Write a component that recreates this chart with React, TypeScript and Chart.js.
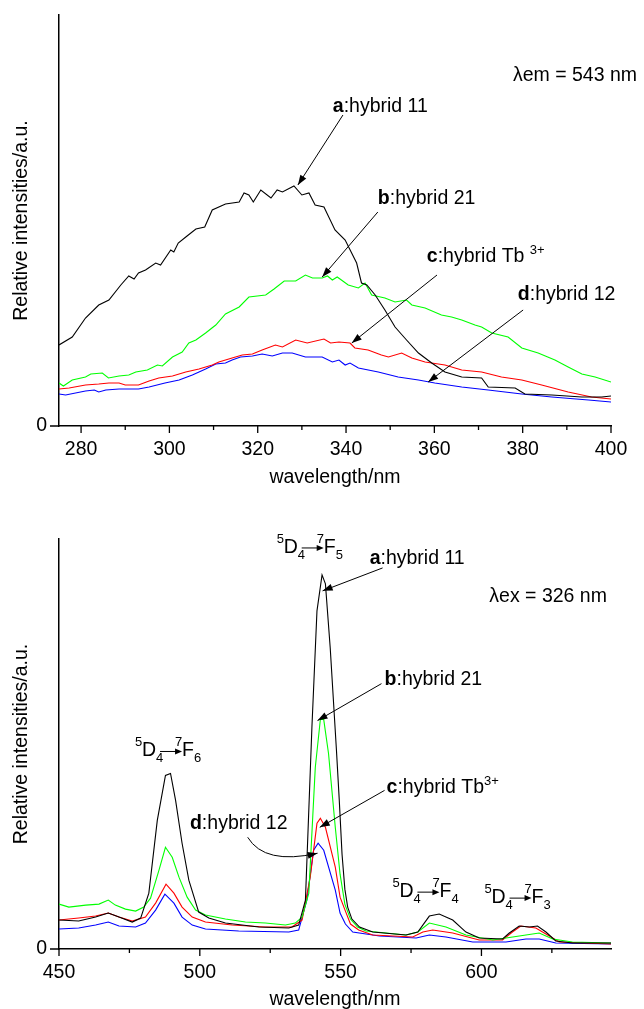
import React, { useEffect, useRef } from 'react';
import { Chart, registerables } from 'chart.js';

Chart.register(...registerables);

const FONT = '"Liberation Sans", Arial, Helvetica, sans-serif';
const TEXT_SIZE = 19.5;
const SMALL_SIZE = 13;

// ---------- Excitation spectra (λem = 543 nm) ----------
const excNmA = [275, 278, 281, 284, 286.3, 289, 290.8, 292, 293, 294.6, 296.9, 298, 300.3, 301, 302, 304, 306, 308, 309.7, 312.7, 315.8, 316.9, 318, 319, 320.7, 323, 324.4, 325.6, 328.2, 330, 331.6, 333, 335, 337.5, 339.8, 342.4, 343.5, 344.7, 346.6, 348.8, 351.1, 353.7, 356.4, 359.4, 362.4, 366.2, 370.7, 372.2, 378.3, 380.5, 386.6, 393.4, 397.9, 400];
const excIntA = [81, 89, 108, 121, 126, 141, 150, 147, 153, 156, 163, 161, 176, 174, 183, 190, 197, 199, 216, 222, 224, 233, 231, 224, 236, 228, 236, 234, 240, 231, 233, 221, 219, 196, 186, 163, 143, 141, 131, 116, 99, 86, 73, 63, 54, 49, 48, 39, 38, 32, 31, 29, 29, 30];

const excNmB = [275, 276, 278, 281, 282.2, 284.8, 286.2, 288.6, 290.8, 292.4, 295, 297.3, 298.4, 300.7, 302.9, 304.4, 306, 308.2, 310.5, 312.7, 315.8, 318, 321.8, 323.7, 326, 328.6, 330.8, 332.4, 334.6, 335.8, 336.9, 338, 340.5, 342.8, 344.3, 345.8, 348.8, 351.1, 353.7, 354.9, 357.9, 361.6, 363.9, 366.2, 369.2, 370.7, 373, 376.7, 379.8, 383.5, 387.3, 390.3, 393.4, 396.4, 400];
const excIntB = [43, 40, 46, 49, 52, 53, 48, 50, 51, 54, 56, 61, 60, 69, 74, 83, 86, 93, 101, 112, 119, 129, 131, 137, 145, 145, 151, 148, 148, 150, 146, 149, 141, 138, 143, 131, 128, 124, 126, 121, 118, 111, 109, 106, 101, 99, 93, 89, 78, 73, 66, 59, 52, 49, 44];

const excNmC = [275, 277.3, 281, 284, 286.3, 288.6, 290, 293, 295.4, 297.6, 300.7, 303.7, 306.7, 309.7, 311.2, 314.2, 316.5, 318.8, 321, 324, 325.6, 328.6, 331.2, 335, 336.5, 338.4, 340.9, 342, 345, 348, 349.6, 352.6, 354.9, 357.9, 362.4, 366.2, 370.7, 375.2, 379.8, 384.3, 390.3, 395.6, 400];
const excIntC = [37, 38, 41, 42, 43, 43, 41, 41, 45, 48, 50, 54, 57, 61, 64, 68, 71, 72, 76, 81, 79, 86, 83, 87, 83, 84, 83, 78, 76, 71, 69, 73, 68, 64, 61, 56, 54, 49, 46, 41, 34, 29, 27];

const excNmD = [275, 276.5, 281, 283, 284, 285.6, 288.6, 293, 295.4, 299, 302.2, 305.2, 308.2, 310.5, 312.7, 314.2, 316.1, 318.8, 321, 323.3, 325.6, 327.8, 330.8, 334.6, 336.9, 338.4, 339.8, 340.9, 342.8, 347.3, 351.8, 356.4, 360.1, 366.2, 372.2, 379.8, 386.6, 394.9, 400];
const excIntD = [32, 31, 35, 36, 34, 36, 37, 37, 39, 43, 46, 51, 57, 62, 63, 66, 69, 70, 72, 70, 73, 73, 69, 69, 64, 66, 61, 63, 58, 54, 49, 46, 43, 39, 36, 32, 29, 26, 24];

const excMajorTicks = [280, 300, 320, 340, 360, 380, 400];
const excMinorTicks = [290, 310, 330, 350, 370, 390];

// ---------- Emission spectra (λex = 326 nm) ----------
const emNmA = [450, 457, 463, 467.5, 471.3, 476, 479, 481.9, 484.9, 487.8, 489.6, 491.4, 493.7, 496.1, 499.6, 503.2, 509.1, 520.9, 531.6, 535.1, 537.5, 539.8, 541.6, 543.4, 544.6, 546.3, 548.5, 549.5, 550.5, 551.5, 552.5, 554, 556.7, 561.4, 573.2, 577.4, 581.5, 585, 589.8, 594.5, 599.2, 607.5, 609.9, 613.4, 617, 619.9, 622.9, 626.4, 632.3, 646];
const emIntA = [29, 28, 32, 36, 32, 27, 31, 56, 129, 174, 176, 149, 106, 69, 37, 31, 26, 22, 21, 24, 49, 222, 339, 375, 366, 302, 200, 150, 95, 60, 42, 30, 22, 17, 14, 17, 33, 35, 29, 17, 11, 10, 16, 23, 22, 23, 17, 8, 6, 6];

const emNmB = [450, 453.5, 459.5, 464.2, 467.5, 470, 473.6, 477.2, 480.1, 482.5, 485.5, 487.8, 490.2, 492.6, 495.5, 498.5, 502, 509.1, 516.2, 523.3, 530.4, 533.9, 536.3, 538.7, 541, 542.8, 544, 545.7, 548.1, 549.8, 551.5, 553.5, 556, 559, 573.2, 577.4, 581.5, 587.4, 594.5, 604, 608.7, 615.8, 620.5, 625.3, 632.3, 646];
const emIntB = [45, 42, 44, 45, 49, 44, 40, 38, 42, 51, 79, 102, 92, 72, 52, 39, 34, 30, 27, 26, 24, 26, 32, 56, 182, 230, 230, 196, 122, 75, 45, 30, 22, 18, 14, 17, 26, 22, 14, 9, 11, 14, 16, 10, 7, 6];

const emNmC = [450, 457, 463, 467.5, 471.3, 476, 480.7, 484.3, 488, 490.8, 493.7, 497.3, 502, 511.5, 523.3, 532.7, 536.3, 539.2, 541.6, 542.8, 544.6, 548.1, 549.8, 551.7, 553.5, 556.4, 561.4, 575.6, 579.2, 582.7, 589.8, 599.2, 607.5, 611, 614, 619.3, 623.5, 627.6, 646];
const emIntC = [29, 31, 33, 36, 32, 28, 32, 46, 65, 56, 42, 32, 27, 24, 22, 22, 29, 72, 126, 131, 122, 82, 52, 38, 25, 19, 14, 12, 17, 19, 16, 9, 9, 17, 23, 21, 14, 7, 5];

const emNmD = [450, 457, 463, 467.5, 471.3, 477.2, 480.7, 484.3, 487.6, 490.8, 493.7, 497.3, 502, 513.8, 531.6, 535.1, 538, 540.4, 542, 544, 548.1, 549.8, 551.7, 554.3, 563.8, 576.8, 581.5, 587.4, 596.9, 608.7, 615.8, 620.5, 626.4, 646];
const emIntD = [20, 21, 24, 27, 23, 22, 26, 39, 55, 46, 32, 24, 20, 18, 17, 19, 49, 99, 106, 99, 59, 36, 25, 17, 13, 11, 14, 12, 7, 7, 10, 10, 6, 5];

const emMajorTicks = [450, 500, 550, 600];
const emMinorTicks = [475, 525, 575, 625];

const seriesColors = ['#000000', '#00ff00', '#ff0000', '#0000ff'];

type Seg = { t: string; bold?: boolean; sup?: boolean; sub?: boolean };
type Note = { x: number; y: number; segs: Seg[] };
type Arrow = { from: [number, number]; to: [number, number]; via?: [number, number] };
type Transition = { x: number; y: number; j: string };

type Panel = {
  nm: number[][];
  vals: number[][];
  xMin: number;
  xMax: number;
  yMax: number;
  majors: number[];
  minors: number[];
  padTop: number;
  xBoxHeight: number;
  titlePadBottom: number;
  notes: Note[];
  arrows: Arrow[];
  transitions: Transition[];
};

const excPanel: Panel = {
  nm: [excNmA, excNmB, excNmC, excNmD],
  vals: [excIntA, excIntB, excIntC, excIntD],
  xMin: 275,
  xMax: 400,
  yMax: 411,
  majors: excMajorTicks,
  minors: excMinorTicks,
  padTop: 15,
  xBoxHeight: 64,
  titlePadBottom: 3,
  notes: [
    { x: 377.8, y: 345, segs: [{ t: 'λem = 543 nm' }] },
    { x: 337.0, y: 314, segs: [{ t: 'a', bold: true }, { t: ':hybrid 11' }] },
    { x: 347.2, y: 222, segs: [{ t: 'b', bold: true }, { t: ':hybrid 21' }] },
    { x: 358.3, y: 164, segs: [{ t: 'c', bold: true }, { t: ':hybrid Tb ' }, { t: '3+', sup: true }] },
    { x: 378.9, y: 126, segs: [{ t: 'd', bold: true }, { t: ':hybrid 12' }] },
  ],
  arrows: [
    { from: [339.3, 311], to: [329.1, 241] },
    { from: [347.2, 214], to: [334.6, 149] },
    { from: [360.6, 151], to: [341.3, 83] },
    { from: [380.1, 116], to: [358.6, 44] },
  ],
  transitions: [],
};

const emPanel: Panel = {
  nm: [emNmA, emNmB, emNmC, emNmD],
  vals: [emIntA, emIntB, emIntC, emIntD],
  xMin: 450,
  xMax: 646,
  yMax: 411,
  majors: emMajorTicks,
  minors: emMinorTicks,
  padTop: 49,
  xBoxHeight: 60,
  titlePadBottom: 0,
  notes: [
    { x: 602.8, y: 348, segs: [{ t: 'λex = 326 nm' }] },
    { x: 560.3, y: 386, segs: [{ t: 'a', bold: true }, { t: ':hybrid 11' }] },
    { x: 565.6, y: 265, segs: [{ t: 'b', bold: true }, { t: ':hybrid 21' }] },
    { x: 566.3, y: 156, segs: [{ t: 'c', bold: true }, { t: ':hybrid Tb' }, { t: '3+', sup: true }] },
    { x: 496.5, y: 120, segs: [{ t: 'd', bold: true }, { t: ':hybrid 12' }] },
  ],
  arrows: [
    { from: [564.9, 382], to: [543.6, 359] },
    { from: [564.5, 266], to: [541.8, 229] },
    { from: [565.6, 159], to: [542.6, 122] },
    { from: [517.0, 112], via: [523.0, 84], to: [541.8, 96] },
  ],
  transitions: [
    { x: 527.3, y: 397, j: '5' },
    { x: 477.0, y: 193, j: '6' },
    { x: 568.4, y: 52, j: '4' },
    { x: 601.1, y: 46, j: '3' },
  ],
};

function font(size: number, bold = false) {
  return `${bold ? 'bold ' : ''}${size}px ${FONT}`;
}

function drawRich(ctx: CanvasRenderingContext2D, x: number, y: number, segs: Seg[]) {
  let cx = x;
  for (const s of segs) {
    const small = s.sup || s.sub;
    ctx.font = font(small ? SMALL_SIZE : TEXT_SIZE, !!s.bold);
    const dy = s.sup ? -8 : s.sub ? 6 : 0;
    ctx.fillText(s.t, cx, y + dy);
    cx += ctx.measureText(s.t).width;
  }
}

function arrowHead(ctx: CanvasRenderingContext2D, fx: number, fy: number, tx: number, ty: number, len: number, half: number) {
  const a = Math.atan2(ty - fy, tx - fx);
  const bx = tx - len * Math.cos(a);
  const by = ty - len * Math.sin(a);
  ctx.beginPath();
  ctx.moveTo(tx, ty);
  ctx.lineTo(bx + half * Math.sin(a), by - half * Math.cos(a));
  ctx.lineTo(bx - half * Math.sin(a), by + half * Math.cos(a));
  ctx.closePath();
  ctx.fill();
}

function drawTransition(ctx: CanvasRenderingContext2D, X: number, B: number, j: string) {
  ctx.font = font(SMALL_SIZE);
  ctx.fillText('5', X, B - 10);
  ctx.font = font(TEXT_SIZE);
  ctx.fillText('D', X + 7, B);
  ctx.font = font(SMALL_SIZE);
  ctx.fillText('4', X + 21, B + 6);
  ctx.fillText('7', X + 40, B - 10);
  ctx.font = font(TEXT_SIZE);
  ctx.fillText('F', X + 47, B);
  ctx.font = font(SMALL_SIZE);
  ctx.fillText(j, X + 59, B + 6);
  ctx.beginPath();
  ctx.moveTo(X + 25, B - 5);
  ctx.lineTo(X + 42, B - 5);
  ctx.stroke();
  arrowHead(ctx, X + 25, B - 5, X + 47, B - 5, 7, 3);
}

function overlayPlugin(panel: Panel) {
  return {
    id: 'overlay',
    afterDraw(chart: any) {
      const ctx: CanvasRenderingContext2D = chart.ctx;
      const xs = chart.scales.x;
      const ys = chart.scales.y;
      const { left, bottom } = chart.chartArea;
      const px = (v: number) => xs.getPixelForValue(v);
      const py = (v: number) => ys.getPixelForValue(v);
      ctx.save();
      ctx.strokeStyle = '#000';
      ctx.fillStyle = '#000';
      ctx.lineWidth = 1.3;
      // axis tick marks (outward)
      ctx.beginPath();
      for (const v of panel.majors) {
        ctx.moveTo(px(v), bottom);
        ctx.lineTo(px(v), bottom + 7);
      }
      for (const v of panel.minors) {
        ctx.moveTo(px(v), bottom);
        ctx.lineTo(px(v), bottom + 4);
      }
      ctx.moveTo(left - 9, py(0));
      ctx.lineTo(left, py(0));
      ctx.stroke();

      // labels
      ctx.textBaseline = 'alphabetic';
      ctx.textAlign = 'left';
      for (const n of panel.notes) drawRich(ctx, px(n.x), py(n.y), n.segs);

      // pointers
      ctx.lineWidth = 1;
      for (const a of panel.arrows) {
        const fx = px(a.from[0]), fy = py(a.from[1]);
        const tx = px(a.to[0]), ty = py(a.to[1]);
        ctx.beginPath();
        ctx.moveTo(fx, fy);
        if (a.via) {
          const cx = px(a.via[0]), cy = py(a.via[1]);
          ctx.quadraticCurveTo(cx, cy, tx, ty);
          ctx.stroke();
          arrowHead(ctx, cx, cy, tx, ty, 10, 3.5);
        } else {
          ctx.lineTo(tx, ty);
          ctx.stroke();
          arrowHead(ctx, fx, fy, tx, ty, 10, 3.5);
        }
      }

      // level transitions
      for (const t of panel.transitions) drawTransition(ctx, px(t.x), py(t.y), t.j);
      ctx.restore();
    },
  };
}

function makeConfig(panel: Panel): any {
  const tickFont = { family: FONT, size: TEXT_SIZE };
  const titleFont = { family: FONT, size: TEXT_SIZE, lineHeight: 1 };
  return {
    type: 'line',
    data: {
      datasets: panel.nm.map((nm, i) => ({
        data: nm.map((x, k) => ({ x, y: panel.vals[i][k] })),
        borderColor: seriesColors[i],
        borderWidth: 1.1,
        pointRadius: 0,
        fill: false,
        tension: 0,
      })),
    },
    options: {
      responsive: false,
      animation: false,
      devicePixelRatio: 1,
      layout: { padding: { top: panel.padTop, right: 33, left: 0, bottom: 0 } },
      plugins: { legend: { display: false }, tooltip: { enabled: false } },
      scales: {
        x: {
          type: 'linear',
          min: panel.xMin,
          max: panel.xMax,
          afterBuildTicks: (s: any) => {
            s.ticks = panel.majors.map((v) => ({ value: v }));
          },
          afterFit: (s: any) => {
            s.height = panel.xBoxHeight;
            s.paddingLeft = 0;
            s.paddingRight = 0;
          },
          grid: { display: false, drawTicks: false },
          border: { display: true, color: '#000', width: 1.5 },
          ticks: { padding: 12, font: tickFont, color: '#000', maxRotation: 0, autoSkip: false },
          title: {
            display: true,
            text: 'wavelength/nm',
            color: '#000',
            font: titleFont,
            padding: { top: 0, bottom: panel.titlePadBottom },
          },
        },
        y: {
          type: 'linear',
          min: 0,
          max: panel.yMax,
          afterBuildTicks: (s: any) => {
            s.ticks = [{ value: 0 }];
          },
          afterFit: (s: any) => {
            s.width = 59;
            s.paddingTop = 0;
            s.paddingBottom = 0;
          },
          grid: { display: false, drawTicks: false },
          border: { display: true, color: '#000', width: 1.5 },
          ticks: { padding: 12, font: tickFont, color: '#000' },
          title: {
            display: true,
            text: 'Relative intensities/a.u.',
            color: '#000',
            font: titleFont,
            padding: { top: 12, bottom: 0 },
          },
        },
      },
    },
    plugins: [overlayPlugin(panel)],
  };
}

export default function App() {
  const topRef = useRef<HTMLCanvasElement>(null);
  const bottomRef = useRef<HTMLCanvasElement>(null);

  useEffect(() => {
    const charts: Chart[] = [];
    if (topRef.current) charts.push(new Chart(topRef.current, makeConfig(excPanel)));
    if (bottomRef.current) charts.push(new Chart(bottomRef.current, makeConfig(emPanel)));
    return () => charts.forEach((c) => c.destroy());
  }, []);

  return (
    <div style={{ position: 'absolute', left: 0, top: 0, width: 644, height: 1009, background: '#fff' }}>
      <canvas ref={topRef} width={644} height={490} style={{ position: 'absolute', left: 0, top: 0, width: 644, height: 490 }} />
      <canvas ref={bottomRef} width={644} height={519} style={{ position: 'absolute', left: 0, top: 490, width: 644, height: 519 }} />
    </div>
  );
}
